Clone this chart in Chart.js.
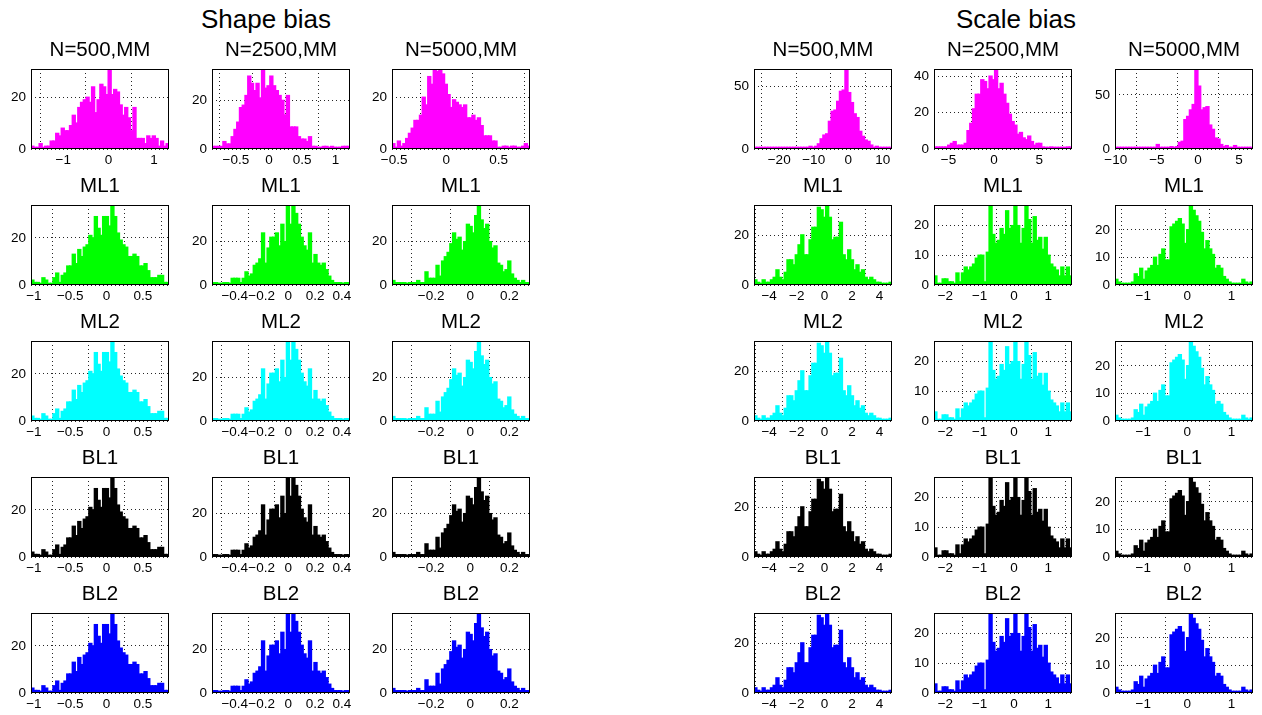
<!DOCTYPE html>
<html><head><meta charset="utf-8">
<script src="https://cdn.jsdelivr.net/npm/chart.js@4.4.1/dist/chart.umd.min.js"></script>
<style>
html,body{margin:0;padding:0;background:#fff;}
body{width:1262px;height:715px;position:relative;overflow:hidden;font-family:"Liberation Sans",Arial,sans-serif;}
.sup{position:absolute;width:240px;text-align:center;font-size:26px;line-height:30px;color:#000;}
canvas{position:absolute;}
</style></head>
<body>
<div class="sup" style="left:146px;top:4px;">Shape bias</div>
<div class="sup" style="left:896px;top:4px;">Scale bias</div>
<script>
// ---------- data (histogram counts, 50 bins each) ----------
const binsShapeMM500  = [1,0,0,2,0,1,1,3,3,6, 5,8,7,7,9,13,10,16,18,19, 20,18,24,14,19,25,24,21,31,21, 23,22,17,13,16,12,7,16,4,4, 4,2,5,4,5,4,1,3,1,2];
const binsShapeMM2500 = [1,1,1,1,3,2,2,5,8,11, 17,18,22,30,27,24,27,21,33,25, 26,30,26,24,22,20,14,22,9,9, 9,5,4,4,3,5,1,1,0,0, 1,1,0,1,0,0,0,1,1,1];
const binsShapeMM5000 = [2,0,3,1,2,4,6,8,11,11, 13,20,17,28,25,31,30,31,29,25, 21,16,19,18,17,16,17,12,12,13, 11,12,9,5,5,5,3,3,0,0, 1,1,0,1,1,0,0,1,2,1];
const binsScaleMM500  = [1,0,0,0,0,0,0,0,0,0, 0,0,0,0,0,0,0,0,0,1, 2,1,2,4,8,11,12,22,30,31, 38,46,47,64,45,37,28,25,14,10, 7,6,3,1,2,1,1,0,1,1];
const binsScaleMM2500 = [1,1,1,1,1,2,3,4,2,2, 2,3,10,14,22,30,30,38,37,33, 40,38,44,33,36,30,25,19,15,13, 8,9,6,5,7,4,2,3,3,1, 0,0,1,0,0,0,0,0,1,1];
const binsScaleMM5000 = [1,0,0,0,0,0,0,0,0,0, 0,0,0,1,0,4,1,0,1,1, 2,1,2,6,7,27,30,36,41,74, 58,36,38,39,22,18,10,9,4,2, 3,1,1,3,1,1,1,1,1,1];

const binsShapeML500  = [2,1,1,0,3,2,0,0,3,5, 1,4,5,8,8,13,9,15,12,16, 17,21,20,29,24,21,29,29,25,34, 29,22,19,17,16,12,12,13,12,8, 8,9,6,3,3,3,4,4,1,1];
const binsShapeML2500 = [1,1,0,0,1,1,0,3,3,3, 1,3,6,4,5,9,10,12,24,10, 17,22,22,24,18,28,20,37,28,37, 33,28,22,18,16,24,10,14,10,9, 10,7,4,2,1,1,1,0,1,1];
const binsShapeML5000 = [2,1,1,1,1,0,1,1,1,2, 1,1,6,3,3,3,9,4,11,13, 15,19,24,21,22,16,20,28,27,24, 32,37,30,26,28,20,17,18,10,9, 6,7,11,5,3,2,1,2,1,1];
const binsScaleML500  = [2,1,0,2,1,1,2,3,6,3, 2,5,10,10,8,12,16,20,12,12, 18,23,23,31,30,27,32,27,18,19, 19,25,12,10,14,10,6,8,5,6, 3,2,3,2,1,1,0,0,0,1];
const binsScaleML2500 = [3,0,0,2,2,1,1,0,4,1, 4,6,5,6,7,9,10,10,1,11, 27,17,14,15,19,17,25,19,20,27, 20,14,19,27,22,14,23,15,16,12, 16,10,7,6,5,3,6,3,6,3];
const binsScaleML5000 = [2,1,0,0,0,0,1,4,3,6, 2,5,6,7,10,7,11,13,9,9, 21,22,23,24,22,15,20,29,27,25, 23,19,13,16,13,11,6,7,6,3, 2,1,0,0,0,0,2,1,0,1];

// x ranges (data min / max)
const rangeShapeMM500 = [-1.71, 1.33];
const rangeShapeMM2500 = [-0.86, 1.22];
const rangeShapeMM5000 = [-0.52, 0.80];
const rangeScaleMM500 = [-27.3, 12.7];
const rangeScaleMM2500 = [-6.6, 8.6];
const rangeScaleMM5000 = [-10.1, 6.7];
const rangeShapeML500 = [-1.04, 0.86];
const rangeShapeML2500 = [-0.57, 0.46];
const rangeShapeML5000 = [-0.40, 0.305];
const rangeScaleML500 = [-5.1, 4.9];
const rangeScaleML2500 = [-2.33, 1.69];
const rangeScaleML5000 = [-1.64, 1.49];

// tick labels
const xTicksShapeMM500 = [-1, 0, 1];
const xTicksShapeMM2500 = [-0.5, 0, 0.5, 1];
const xTicksShapeMM5000 = [-0.5, 0, 0.5];
const xTicksScaleMM500 = [-20, -10, 0, 10];
const xTicksScaleMM2500 = [-5, 0, 5];
const xTicksScaleMM5000 = [-10, -5, 0, 5];
const xTicksShapeML500 = [-1, -0.5, 0, 0.5];
const xTicksShapeML2500 = [-0.4, -0.2, 0, 0.2, 0.4];
const xTicksShapeML5000 = [-0.2, 0, 0.2];
const xTicksScaleML500 = [-4, -2, 0, 2, 4];
const xTicksScaleML2500 = [-2, -1, 0, 1];
const xTicksScaleML5000 = [-1, 0, 1];
const yTicksMM = [[0,20],[0,20],[0,20],[0,50],[0,20,40],[0,50]];
const yTicksML = [[0,20],[0,20],[0,20],[0,20],[0,10,20],[0,10,20]];

const mmTitles = ["N=500,MM","N=2500,MM","N=5000,MM","N=500,MM","N=2500,MM","N=5000,MM"];
const rowTitles = ["ML1","ML2","BL1","BL2"];
const rowColors = ["#ff00ff","#00ff00","#00ffff","#000000","#0000ff"];

// ---------- layout ----------
const colLefts = [31, 212, 392, 754, 934, 1115];
const rowTops = [69, 205, 341, 477, 613];
const BW = 138, BH = 80, M = 34, T = 31, B = 24;
const FONT = '"Liberation Sans", Arial, sans-serif';

const mmCounts = [binsShapeMM500, binsShapeMM2500, binsShapeMM5000, binsScaleMM500, binsScaleMM2500, binsScaleMM5000];
const mmRanges = [rangeShapeMM500, rangeShapeMM2500, rangeShapeMM5000, rangeScaleMM500, rangeScaleMM2500, rangeScaleMM5000];
const mmXTicks = [xTicksShapeMM500, xTicksShapeMM2500, xTicksShapeMM5000, xTicksScaleMM500, xTicksScaleMM2500, xTicksScaleMM5000];
const mlCounts = [binsShapeML500, binsShapeML2500, binsShapeML5000, binsScaleML500, binsScaleML2500, binsScaleML5000];
const mlRanges = [rangeShapeML500, rangeShapeML2500, rangeShapeML5000, rangeScaleML500, rangeScaleML2500, rangeScaleML5000];
const mlXTicks = [xTicksShapeML500, xTicksShapeML2500, xTicksShapeML5000, xTicksScaleML500, xTicksScaleML2500, xTicksScaleML5000];

const fmt = v => String(v).replace('-', '\u2212');

const boxPlugin = {
  id: 'box',
  afterDraw(chart) {
    const a = chart.chartArea, ctx = chart.ctx;
    ctx.save();
    ctx.strokeStyle = '#000';
    ctx.lineWidth = 1;
    ctx.strokeRect(Math.round(a.left) + 0.5, Math.round(a.top) + 0.5, Math.round(a.width) - 1, Math.round(a.height) - 1);
    ctx.restore();
  }
};

function makePanel(col, row, counts, range, xTicks, yTicks, color, title) {
  const cv = document.createElement('canvas');
  cv.width = BW + 2 * M; cv.height = T + BH + B;
  cv.style.left = (colLefts[col] - M) + 'px';
  cv.style.top = (rowTops[row] - T) + 'px';
  cv.style.width = cv.width + 'px'; cv.style.height = cv.height + 'px';
  document.body.appendChild(cv);
  const w = (range[1] - range[0]) / counts.length;
  const data = counts.map((c, i) => ({ x: range[0] + (i + 0.5) * w, y: c }));
  const gridOpts = { color: 'rgba(0,0,0,0.85)', lineWidth: 1, drawTicks: false };
  new Chart(cv, {
    type: 'bar',
    data: { datasets: [{ data, backgroundColor: color, borderColor: color, borderWidth: 0, inflateAmount: 0.8, barPercentage: 1, categoryPercentage: 1, minBarLength: 1.5 }] },
    options: {
      responsive: false, animation: false, events: [], devicePixelRatio: 1,
      layout: { padding: { left: 0, right: M, top: 0, bottom: 0 } },
      plugins: {
        legend: { display: false }, tooltip: { enabled: false },
        title: { display: true, fullSize: false, text: title, color: '#000', font: { size: 20.5, family: FONT, weight: 'normal', lineHeight: 1.2 }, padding: { top: 0, bottom: 6.4 } }
      },
      scales: {
        x: {
          type: 'linear', min: range[0], max: range[1], offset: false,
          afterBuildTicks: s => { s.ticks = xTicks.map(v => ({ value: v })); },
          afterFit: s => { s.height = B; },
          ticks: { color: '#000', font: { size: 13.5, family: FONT }, padding: 3, maxRotation: 0, autoSkip: false, callback: v => fmt(v) },
          grid: gridOpts, border: { display: false, dash: [1, 3] }
        },
        y: {
          min: 0, max: Math.max(...counts),
          afterBuildTicks: s => { s.ticks = yTicks.map(v => ({ value: v })); },
          afterFit: s => { s.width = M; },
          ticks: { color: '#000', font: { size: 13.5, family: FONT }, padding: 5, autoSkip: false, callback: v => fmt(v) },
          grid: gridOpts, border: { display: false, dash: [1, 3] }
        }
      }
    },
    plugins: [boxPlugin]
  });
}

for (let c = 0; c < 6; c++) {
  makePanel(c, 0, mmCounts[c], mmRanges[c], mmXTicks[c], yTicksMM[c], rowColors[0], mmTitles[c]);
  for (let r = 1; r < 5; r++) {
    makePanel(c, r, mlCounts[c], mlRanges[c], mlXTicks[c], yTicksML[c], rowColors[r], rowTitles[r - 1]);
  }
}
</script>
</body></html>
